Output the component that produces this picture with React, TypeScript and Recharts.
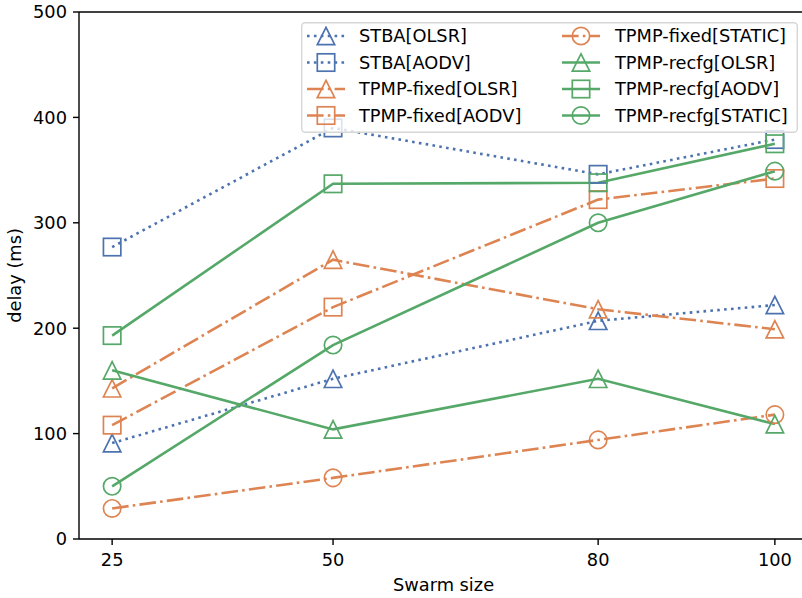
import React from "react";
import {
  LineChart,
  Line,
  XAxis,
  YAxis,
  Legend,
  ReferenceLine,
} from "recharts";

const swarmSizes = [25, 50, 80, 100];
const yTicks = [0, 100, 200, 300, 400, 500];

const stbaOlsr = [91, 152, 207, 222];
const stbaAodv = [277, 390, 346, 379];
const fixedOlsr = [143, 265, 218, 199];
const fixedAodv = [108, 220, 322, 342];
const fixedStatic = [29, 58, 94, 118];
const recfgOlsr = [160, 104, 152, 109];
const recfgAodv = [193, 337, 338, 375];
const recfgStatic = [50, 184, 300, 349];

const BLUE = "#4C72B0";
const ORANGE = "#DD8452";
const GREEN = "#55A868";
const DOTTED = "2.6 4.3";
const DASHDOT = "16.6 4.2 2.6 4.2";
const FONT = "'DejaVu Sans', sans-serif";
const FS = 17.8;

type Shape = "triangle" | "square" | "circle";

const series: {
  key: string;
  name: string;
  values: number[];
  color: string;
  dash?: string;
  shape: Shape;
}[] = [
  { key: "stbaOlsr", name: "STBA[OLSR]", values: stbaOlsr, color: BLUE, dash: DOTTED, shape: "triangle" },
  { key: "stbaAodv", name: "STBA[AODV]", values: stbaAodv, color: BLUE, dash: DOTTED, shape: "square" },
  { key: "fixedOlsr", name: "TPMP-fixed[OLSR]", values: fixedOlsr, color: ORANGE, dash: DASHDOT, shape: "triangle" },
  { key: "fixedAodv", name: "TPMP-fixed[AODV]", values: fixedAodv, color: ORANGE, dash: DASHDOT, shape: "square" },
  { key: "fixedStatic", name: "TPMP-fixed[STATIC]", values: fixedStatic, color: ORANGE, dash: DASHDOT, shape: "circle" },
  { key: "recfgOlsr", name: "TPMP-recfg[OLSR]", values: recfgOlsr, color: GREEN, shape: "triangle" },
  { key: "recfgAodv", name: "TPMP-recfg[AODV]", values: recfgAodv, color: GREEN, shape: "square" },
  { key: "recfgStatic", name: "TPMP-recfg[STATIC]", values: recfgStatic, color: GREEN, shape: "circle" },
];

const data = swarmSizes.map((size, i) => {
  const row: Record<string, number> = { size };
  series.forEach((s) => {
    row[s.key] = s.values[i];
  });
  return row;
});

const R = 8.7;

function Marker({ cx, cy, shape, color }: { cx: number; cy: number; shape: Shape; color: string }) {
  const common = { fill: "none", stroke: color, strokeWidth: 1.7 };
  if (shape === "circle") return <circle cx={cx} cy={cy} r={R} {...common} />;
  if (shape === "square")
    return <rect x={cx - R} y={cy - R} width={2 * R} height={2 * R} {...common} />;
  return (
    <path
      d={`M${cx},${cy - R} L${cx - R},${cy + R} L${cx + R},${cy + R} Z`}
      strokeLinejoin="miter"
      {...common}
    />
  );
}

const makeDot = (shape: Shape, color: string) => (props: any) => {
  const { cx, cy, index } = props;
  return <Marker key={`${shape}-${index}`} cx={cx} cy={cy} shape={shape} color={color} />;
};

function LegendBox() {
  const rows = [36, 62.5, 89, 115.5].map((y) => y - 22);
  const cols = [
    { line: 6, text: 58 },
    { line: 261, text: 314 },
  ];
  return (
    <svg width={497} height={111} style={{ display: "block" }}>
      <rect
        x={0.7}
        y={0.7}
        width={495.6}
        height={109.6}
        rx={3.5}
        fill="#fff"
        fillOpacity={0.8}
        stroke="#d6d6d6"
        strokeWidth={1.4}
      />
      {series.map((s, i) => {
        const col = cols[Math.floor(i / 4)];
        const y = rows[i % 4];
        const mid = col.line + 19;
        return (
          <g key={s.key}>
            <line
              x1={col.line}
              x2={col.line + 38}
              y1={y}
              y2={y}
              stroke={s.color}
              strokeWidth={2.6}
              strokeDasharray={s.dash}
            />
            <Marker cx={mid} cy={y} shape={s.shape} color={s.color} />
            <text x={col.text} y={y + 6.4} fontSize={FS} fontFamily={FONT} fill="#000">
              {s.name}
            </text>
          </g>
        );
      })}
    </svg>
  );
}

function YLabel(props: any) {
  const vb = props.viewBox || { x: 0, y: 12, width: 79, height: 527 };
  const x = vb.x + 20.5;
  const y = vb.y + vb.height / 2;
  return (
    <text
      x={x}
      y={y}
      transform={`rotate(-90 ${x} ${y})`}
      textAnchor="middle"
      fontSize={FS}
      fontFamily={FONT}
      fill="#000"
    >
      delay (ms)
    </text>
  );
}

export default function App() {
  const tickStyle = { fill: "#000", fontSize: FS, fontFamily: FONT };
  const axisLine = { stroke: "#000", strokeWidth: 1.4 };
  return (
    <div
      style={{
        position: "fixed",
        left: 0,
        top: 0,
        width: 802,
        height: 598,
        overflow: "hidden",
        background: "#fff",
      }}
    >
      <LineChart
        width={812}
        height={598}
        data={data}
        margin={{ top: 12, right: 4, bottom: 0, left: 0 }}
        style={{ fontFamily: FONT }}
      >
        <XAxis
          dataKey="size"
          type="number"
          domain={[21.25, 103.75]}
          ticks={swarmSizes}
          allowDataOverflow
          height={59}
          tick={tickStyle}
          tickSize={6}
          tickMargin={8}
          axisLine={axisLine}
          tickLine={axisLine}
          label={{
            value: "Swarm size",
            position: "insideBottom",
            offset: 7,
            style: { fill: "#000", fontSize: FS, fontFamily: FONT },
          }}
        />
        <YAxis
          type="number"
          domain={[0, 500]}
          ticks={yTicks}
          width={79}
          tick={tickStyle}
          tickSize={6}
          tickMargin={6}
          axisLine={axisLine}
          tickLine={axisLine}
          label={<YLabel />}
        />
        <ReferenceLine y={500} stroke="#000" strokeWidth={1.4} />
        {series.map((s) => (
          <Line
            key={s.key}
            dataKey={s.key}
            name={s.name}
            type="linear"
            stroke={s.color}
            strokeWidth={2.6}
            strokeDasharray={s.dash}
            dot={makeDot(s.shape, s.color)}
            activeDot={false}
            isAnimationActive={false}
          />
        ))}
        <Legend
          layout="horizontal"
          align="center"
          verticalAlign="middle"
          content={() => <LegendBox />}
          wrapperStyle={{ left: 301, top: 22, width: 497, height: 111 }}
        />
      </LineChart>
    </div>
  );
}
